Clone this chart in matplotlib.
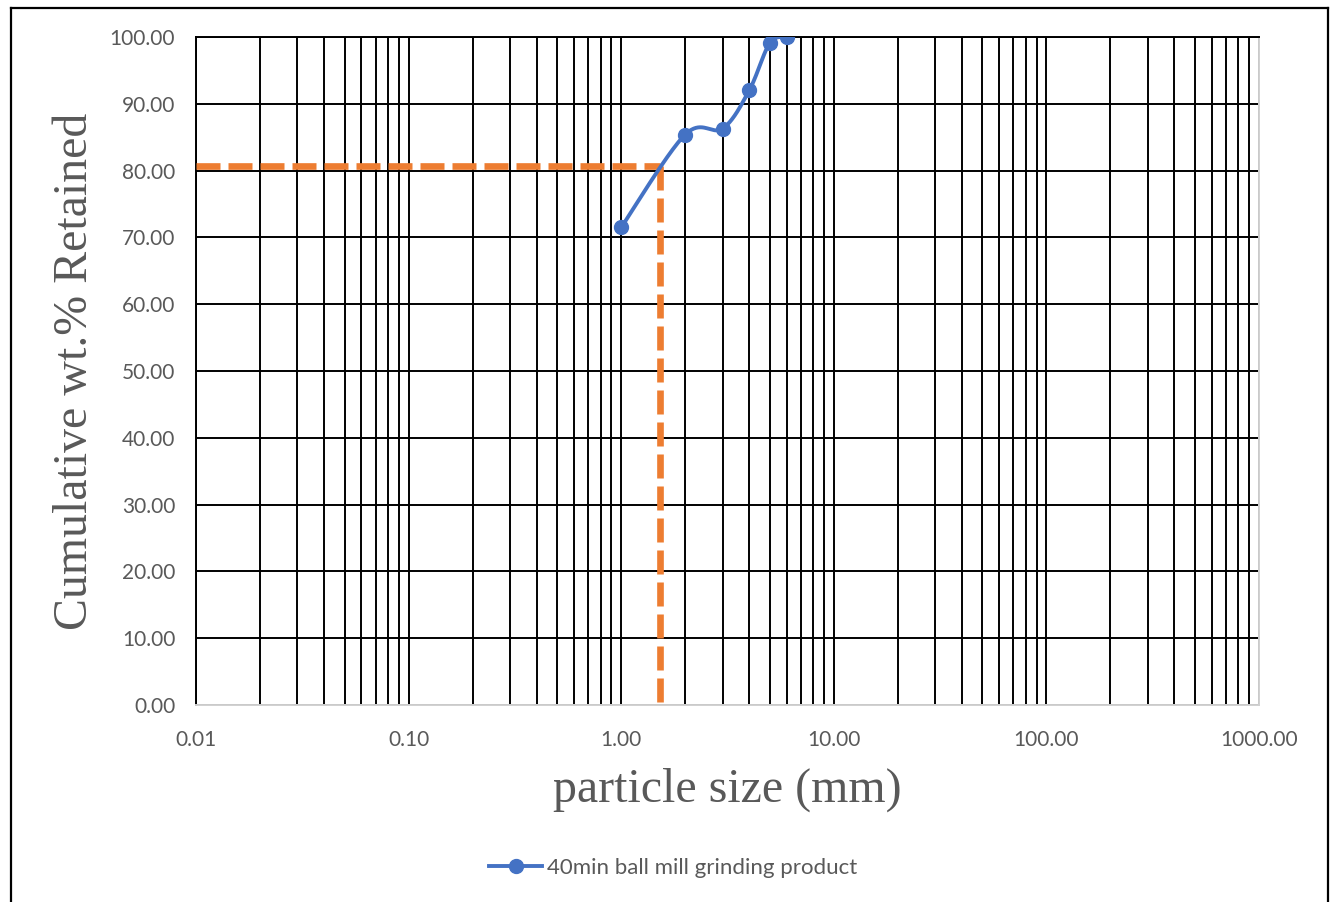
import numpy as np
import matplotlib
matplotlib.use("Agg")
import matplotlib.pyplot as plt
from matplotlib.lines import Line2D
from matplotlib.ticker import FixedLocator, FixedFormatter, NullFormatter

# Sieve data: particle size (mm) and cumulative wt.% retained
particle_size = [1, 2, 3, 4, 5, 6]
cum_retained = [71.5, 85.4, 86.3, 92.0, 99.1, 100.0]
series_name = "40min ball mill grinding product"

# Reading of the 80 % passing size
d_level = 80.7
d_size = 1.53

x_ticks = [0.01, 0.1, 1, 10, 100, 1000]
x_tick_labels = ["0.01", "0.10", "1.00", "10.00", "100.00", "1000.00"]
y_ticks = list(range(0, 101, 10))
y_tick_labels = [f"{v:.2f}" for v in y_ticks]

BLUE = "#4472C4"
ORANGE = "#ED7D31"
GREY_TXT = "#595959"
TICK_FONT = ["Lato", "DejaVu Sans"]
TITLE_FONT = ["Liberation Serif", "DejaVu Serif"]


def smooth_curve(xs, ys, n=40):
    """Catmull-Rom style Bezier smoothing in (log10 x, y) space."""
    px = np.log10(np.asarray(xs, float))
    py = np.asarray(ys, float)
    m = len(px)
    out_x, out_y = [], []
    t = np.linspace(0, 1, n)
    for i in range(m - 1):
        i0 = max(i - 1, 0)
        i3 = min(i + 2, m - 1)
        p0 = np.array([px[i], py[i]])
        p3 = np.array([px[i + 1], py[i + 1]])
        c1 = p0 + (np.array([px[i + 1], py[i + 1]]) - np.array([px[i0], py[i0]])) / 6
        c2 = p3 - (np.array([px[i3], py[i3]]) - np.array([px[i], py[i]])) / 6
        b = ((1 - t) ** 3)[:, None] * p0 + (3 * (1 - t) ** 2 * t)[:, None] * c1 \
            + (3 * (1 - t) * t ** 2)[:, None] * c2 + (t ** 3)[:, None] * p3
        out_x.extend(b[:, 0])
        out_y.extend(b[:, 1])
    return 10 ** np.array(out_x), np.array(out_y)


fig = plt.figure(figsize=(13.34, 9.02), dpi=100)
W, H = 1334, 902
ax = fig.add_axes([196 / W, 1 - 705 / H, (1259 - 196) / W, (705 - 37) / H])

ax.set_xscale("log")
ax.set_xlim(0.01, 1000)
ax.set_ylim(0, 100)

# Major and minor vertical grid, horizontal grid every 10
minor = [m * 10.0 ** e for e in range(-2, 3) for m in range(2, 10)]
ax.xaxis.set_major_locator(FixedLocator(x_ticks))
ax.xaxis.set_major_formatter(FixedFormatter(x_tick_labels))
ax.xaxis.set_minor_locator(FixedLocator(minor))
ax.xaxis.set_minor_formatter(NullFormatter())
ax.yaxis.set_major_locator(FixedLocator(y_ticks))
ax.yaxis.set_major_formatter(FixedFormatter(y_tick_labels))

ax.grid(True, which="both", axis="x", color="black", lw=1.4, zorder=1)
ax.grid(True, which="major", axis="y", color="black", lw=1.4, zorder=1)
ax.set_axisbelow(True)

ax.tick_params(axis="both", which="both", length=0)
ax.tick_params(axis="x", pad=18, labelsize=15, labelcolor=GREY_TXT)
ax.tick_params(axis="y", pad=15, labelsize=15, labelcolor=GREY_TXT)
for lab in ax.get_xticklabels() + ax.get_yticklabels():
    lab.set_family(TICK_FONT)

for side in ("left", "top"):
    ax.spines[side].set_color("black")
    ax.spines[side].set_linewidth(1.4)
for side in ("bottom", "right"):
    ax.spines[side].set_color("#D0D0D0")
    ax.spines[side].set_linewidth(1.4)

# Dashed reading lines
ax.plot([0.01, d_size], [d_level, d_level], color=ORANGE, lw=4.8,
        linestyle=(0, (3.6, 1.2)), zorder=3)
ax.plot([d_size, d_size], [d_level, 0], color=ORANGE, lw=4.8,
        linestyle=(0, (3.6, 1.2)), zorder=3)

# Smoothed cumulative curve
sx, sy = smooth_curve(particle_size, cum_retained)
ax.plot(sx, sy, color=BLUE, lw=2.8, zorder=4)
ax.plot(particle_size, cum_retained, "o", color=BLUE, ms=10, zorder=5)

ax.set_xlabel("particle size (mm)", family=TITLE_FONT, fontsize=34.5,
              color=GREY_TXT, va="center")
ax.xaxis.set_label_coords(0.5, (705 - 790) / 668)
ax.set_ylabel("Cumulative wt.% Retained", family=TITLE_FONT, fontsize=34.5,
              color=GREY_TXT, va="center")
ax.yaxis.set_label_coords((75 - 196) / 1063, 0.5)

handle = Line2D([], [], color=BLUE, lw=2.8, marker="o", ms=10)
fig.legend([handle], [series_name], loc="center", bbox_to_anchor=(673 / W, 1 - 868 / H),
           frameon=False, prop={"family": TICK_FONT, "size": 16},
           labelcolor=GREY_TXT, handlelength=2.4, handletextpad=0.2)

# Chart frame (open at the bottom)
frame_kw = dict(color="black", lw=1.6, transform=fig.transFigure)
fig.add_artist(Line2D([11 / W, 11 / W], [0, 1 - 8 / H], **frame_kw))
fig.add_artist(Line2D([11 / W, 1328 / W], [1 - 8 / H, 1 - 8 / H], **frame_kw))
fig.add_artist(Line2D([1328 / W, 1328 / W], [0, 1 - 8 / H], **frame_kw))

fig.savefig("out.png", dpi=100, facecolor="white")
